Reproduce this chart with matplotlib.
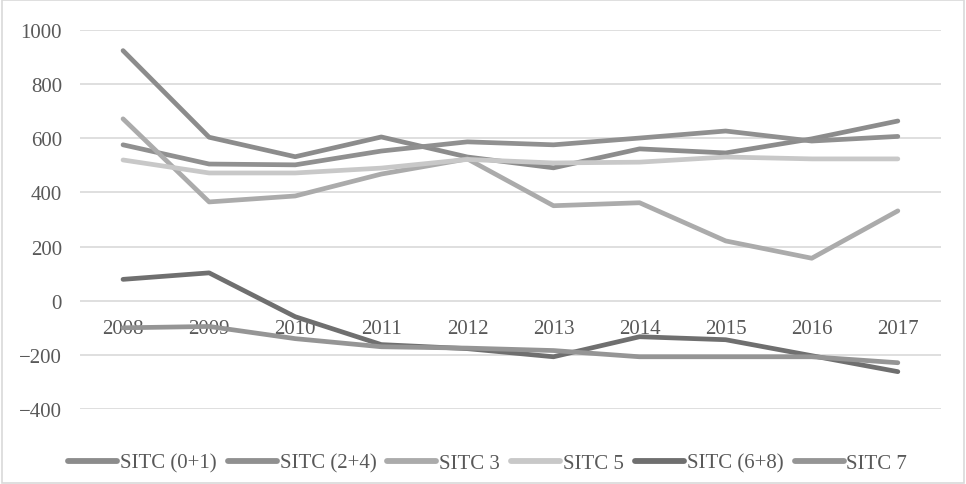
import matplotlib.pyplot as plt
from matplotlib.patches import Rectangle

years = ['2008', '2009', '2010', '2011', '2012', '2013', '2014', '2015', '2016', '2017']

sitc_01 = [924, 604, 532, 605, 531, 491, 561, 546, 598, 664]
sitc_24 = [576, 505, 502, 553, 587, 576, 601, 627, 590, 607]
sitc_3 = [672, 365, 387, 468, 524, 351, 362, 221, 157, 332]
sitc_5 = [520, 472, 472, 490, 522, 509, 512, 531, 524, 524]
sitc_68 = [79, 103, -59, -162, -177, -207, -133, -144, -203, -262]
sitc_7 = [-100, -95, -140, -170, -175, -184, -207, -207, -207, -229]

series = [
    ('SITC (0+1)', sitc_01, '#8c8c8c'),
    ('SITC (2+4)', sitc_24, '#909090'),
    ('SITC 3', sitc_3, '#ababab'),
    ('SITC 5', sitc_5, '#c8c8c8'),
    ('SITC (6+8)', sitc_68, '#6f6f6f'),
    ('SITC 7', sitc_7, '#959595'),
]

plt.rcParams['font.family'] = ['Liberation Serif', 'DejaVu Serif']

fig = plt.figure(figsize=(9.66, 4.85), dpi=100)
ax = fig.add_axes([0.0828, 0.1546, 0.8912, 0.7814])

x = list(range(len(years)))
for name, vals, col in series:
    ax.plot(x, vals, color=col, lw=3.4, label=name, solid_capstyle='round', zorder=3)

ax.set_xlim(-0.5, len(years) - 0.5)
ax.set_ylim(-400, 1000)
ax.set_yticks(range(-400, 1001, 200))
ax.grid(axis='y', color='#d9d9d9', lw=1.2, zorder=0)
ax.set_axisbelow(True)

# category labels sit at the zero line, like Excel
ax.spines['bottom'].set_position(('data', 0))
for s in ax.spines.values():
    s.set_visible(False)
ax.set_xticks(x)
ax.set_xticklabels(years)
ax.tick_params(axis='x', length=0, pad=13, labelsize=15, labelcolor='#595959')
ax.tick_params(axis='y', length=0, pad=13, labelsize=15, labelcolor='#595959')

leg = fig.legend(loc='center', bbox_to_anchor=(0.505, 0.043), ncol=6, frameon=False,
                 fontsize=15, handlelength=2.35, columnspacing=0.53, handletextpad=0.14,
                 labelcolor='#595959')
for h in leg.get_lines():
    h.set_linewidth(4.2)

fig.add_artist(Rectangle((0.002, 0.003), 0.996, 0.994, transform=fig.transFigure,
                         fill=False, edgecolor='#d9d9d9', lw=1.2))

fig.savefig('out.png', dpi=100)
